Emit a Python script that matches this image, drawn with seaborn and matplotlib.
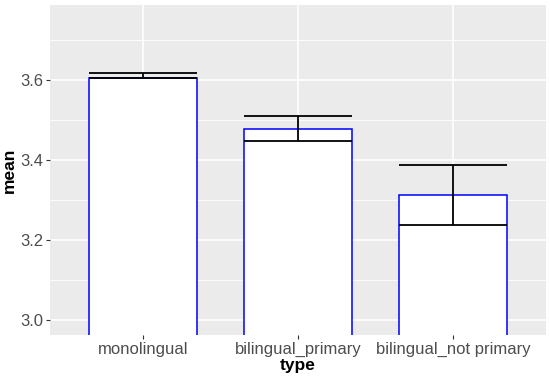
import numpy as np
import pandas as pd
import seaborn as sns
import matplotlib.pyplot as plt
from matplotlib.ticker import MultipleLocator

# values
types = ["monolingual", "bilingual_primary", "bilingual_not primary"]
means = [3.606, 3.478, 3.3125]
err_low = [3.604, 3.448, 3.237]
err_high = [3.617, 3.509, 3.388]

df = pd.DataFrame({"type": types, "mean": means})

sns.set_theme(style="darkgrid", rc={
    "axes.facecolor": "#EBEBEB",
    "grid.color": "white",
    "axes.edgecolor": "#EBEBEB",
})
plt.rcParams["font.family"] = ["Liberation Sans", "DejaVu Sans"]

fig = plt.figure(figsize=(5.5, 3.8), dpi=100)
ax = fig.add_axes([50 / 550, 45 / 380, 496 / 550, 330 / 380])

sns.barplot(data=df, x="type", y="mean", order=types, errorbar=None,
            color="white", edgecolor="#0000FF", linewidth=1.1, width=0.7,
            saturation=1, ax=ax, zorder=3)

xpos = np.arange(len(types))
ax.vlines(xpos, err_low, err_high, color="black", linewidth=1.3, zorder=4)
ax.hlines(err_low, xpos - 0.35, xpos + 0.35, color="black", linewidth=1.3, zorder=4)
ax.hlines(err_high, xpos - 0.35, xpos + 0.35, color="black", linewidth=1.3, zorder=4)

ax.set_ylim(2.9625, 3.7875)
ax.set_xlim(-0.6, 2.6)
ax.yaxis.set_major_locator(MultipleLocator(0.2))
ax.yaxis.set_minor_locator(MultipleLocator(0.1))
ax.yaxis.set_major_formatter(lambda v, p: f"{v:.1f}")
ax.grid(which="major", color="white", linewidth=1.2)
ax.grid(which="minor", axis="y", color="white", linewidth=0.6)
ax.set_axisbelow(True)
for s in ax.spines.values():
    s.set_visible(False)

ax.tick_params(axis="both", which="major", length=3, width=0.8, color="#333333",
               labelsize=12, labelcolor="#4D4D4D", pad=2, bottom=True, left=True)
ax.tick_params(axis="y", which="minor", length=0)
ax.set_xlabel("type", fontsize=12.5, fontweight="bold", color="black", labelpad=1)
ax.set_ylabel("mean", fontsize=12.5, fontweight="bold", color="black", labelpad=2)

fig.savefig("out.png", dpi=100)
